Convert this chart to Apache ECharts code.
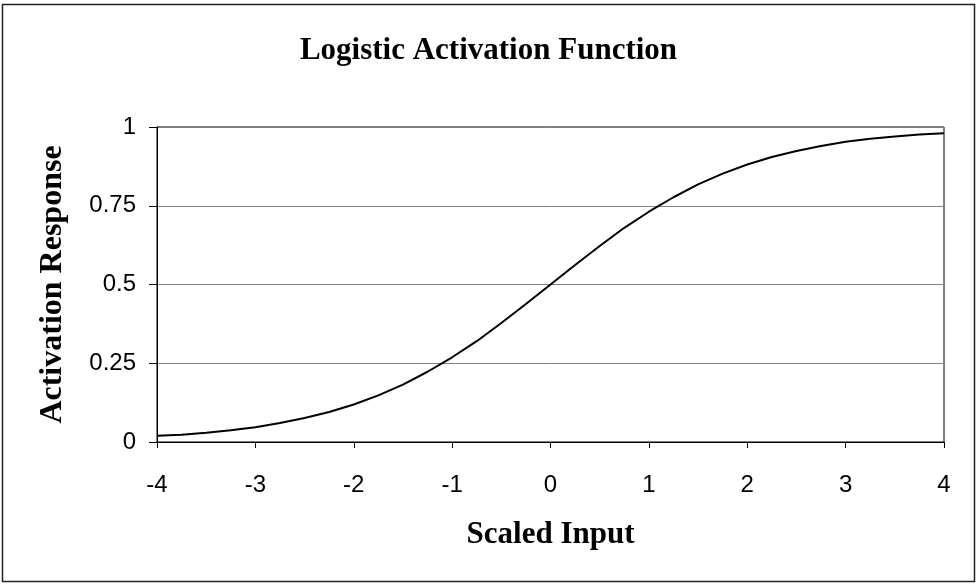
<!DOCTYPE html>
<html>
<head>
<meta charset="utf-8">
<script src="https://cdn.jsdelivr.net/npm/echarts@6/dist/echarts.min.js"></script>
<style>
  html, body { margin: 0; padding: 0; background: #fff; }
  #chart { width: 977px; height: 584px; }
</style>
</head>
<body>
<div id="chart"></div>
<script>
// values
var xValues = [-4, -3.75, -3.5, -3.25, -3, -2.75, -2.5, -2.25, -2, -1.75, -1.5, -1.25, -1,
  -0.75, -0.5, -0.25, 0, 0.25, 0.5, 0.75, 1, 1.25, 1.5, 1.75, 2, 2.25, 2.5, 2.75, 3,
  3.25, 3.5, 3.75, 4]
var yValues = [0.02, 0.023, 0.029, 0.037, 0.047, 0.06, 0.076, 0.095, 0.119, 0.148, 0.182,
  0.223, 0.269, 0.32, 0.378, 0.438, 0.5, 0.562, 0.622, 0.68, 0.731, 0.777, 0.818, 0.852,
  0.881, 0.905, 0.924, 0.94, 0.953, 0.963, 0.97, 0.976, 0.98]
var xTicks = [-4, -3, -2, -1, 0, 1, 2, 3, 4]
var yTicks = [0, 0.25, 0.5, 0.75, 1]

var serif = '"Liberation Serif", "Times New Roman", serif'
var sans = '"Liberation Sans", Arial, sans-serif'

var chart = echarts.init(document.getElementById('chart'))

var points = []
for (var i = 0; i < xValues.length; i++) {
  points.push([xValues[i], yValues[i]])
}

var option = {
  backgroundColor: '#fff',
  animation: false,
  title: {
    text: 'Logistic Activation Function',
    left: 'center',
    top: 30,
    textStyle: { fontFamily: serif, fontWeight: 'bold', fontSize: 31, color: '#000' }
  },
  graphic: [{
    type: 'rect',
    shape: { x: 2.5, y: 4.5, width: 972, height: 577 },
    style: { fill: 'none', stroke: '#222', lineWidth: 1.5 },
    silent: true
  }],
  grid: {
    left: 157,
    right: 33,
    top: 127,
    bottom: 142,
    show: true,
    borderColor: '#000',
    borderWidth: 1
  },
  xAxis: {
    type: 'value',
    min: xTicks[0],
    max: xTicks[xTicks.length - 1],
    interval: 1,
    name: 'Scaled Input',
    nameLocation: 'middle',
    nameGap: 77,
    nameTextStyle: { fontFamily: serif, fontWeight: 'bold', fontSize: 31, color: '#000' },
    axisLine: { onZero: false, lineStyle: { color: '#000', width: 1 } },
    axisTick: { show: true, length: 6, lineStyle: { color: '#000' } },
    axisLabel: { margin: 31, fontFamily: sans, fontSize: 24, color: '#000' },
    splitLine: { show: false }
  },
  yAxis: {
    type: 'value',
    min: yTicks[0],
    max: yTicks[yTicks.length - 1],
    interval: 0.25,
    name: 'Activation Response',
    nameLocation: 'middle',
    nameGap: 88,
    nameTextStyle: { fontFamily: serif, fontWeight: 'bold', fontSize: 32, color: '#000' },
    axisLine: { show: true, onZero: false, lineStyle: { color: '#000', width: 1 } },
    axisTick: { show: true, length: 8, lineStyle: { color: '#000' } },
    axisLabel: {
      margin: 21,
      fontFamily: sans,
      fontSize: 24,
      color: '#000',
      formatter: function (v) { return String(v) }
    },
    splitLine: { show: true, lineStyle: { color: '#808080', width: 1 } }
  },
  series: [{
    type: 'line',
    data: points,
    showSymbol: false,
    lineStyle: { color: '#000', width: 2 }
  }]
}

chart.setOption(option)
</script>
</body>
</html>
